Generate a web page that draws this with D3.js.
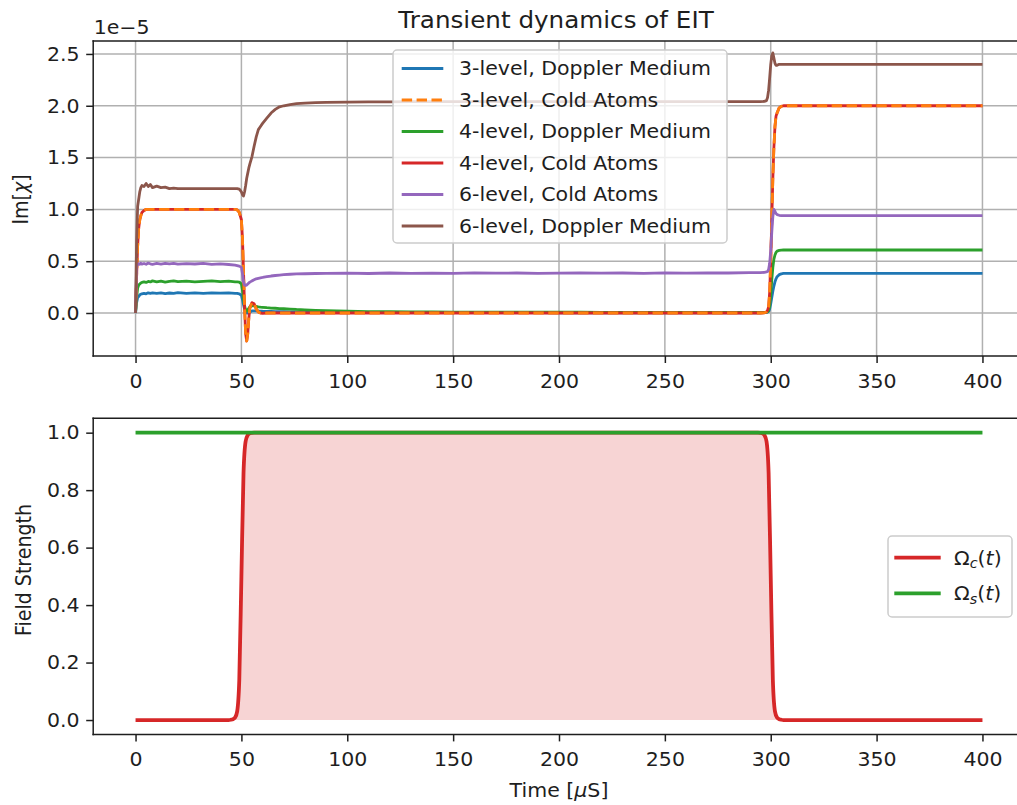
<!DOCTYPE html>
<html>
<head>
<meta charset="utf-8">
<title>Transient dynamics of EIT</title>
<script src="https://cdn.jsdelivr.net/npm/d3@7/dist/d3.min.js"></script>
<style>
  html, body { margin: 0; padding: 0; background: #ffffff; }
  svg { display: block; }
</style>
</head>
<body>
<svg id="fig" width="1017" height="805"></svg>
<script>
// ---------------- data ----------------
// Sample times in microseconds shared by all susceptibility traces
const timeUs = [
  0, 0.5, 1, 1.5, 2, 2.5, 3, 4, 5, 6, 7, 8,
  10, 12, 14, 16, 18, 20, 24, 28, 32, 36, 40, 44, 47, 48, 49,
  50, 50.5, 51, 51.5, 52, 52.5, 53, 53.5, 54, 55, 56, 57, 58, 59, 60,
  62, 64, 66, 68, 70, 73, 76, 80, 85, 90,
  100, 110, 120, 130, 140, 150, 160, 170, 180, 190, 200, 210, 220, 230, 240, 250, 260, 270, 280, 290,
  295, 297, 298, 298.5, 299, 299.5, 300, 300.5, 301, 301.5, 302, 302.5, 303, 304, 305, 306, 308, 310,
  320, 340, 360, 380, 400
];

// Im[chi] in units of 1e-5
const chi3Doppler = [
  0, 0.10, 0.15, 0.16, 0.175, 0.18, 0.185, 0.19, 0.185, 0.195, 0.19, 0.195,
  0.19, 0.195, 0.188, 0.193, 0.19, 0.196, 0.19, 0.194, 0.189, 0.195, 0.191, 0.194, 0.19, 0.19, 0.185,
  0.17, 0.13, 0.08, 0.04, 0.01, 0.0, 0.0, 0.005, 0.01, 0.02, 0.02, 0.02, 0.018, 0.018, 0.017,
  0.016, 0.015, 0.014, 0.013, 0.012, 0.011, 0.01, 0.009, 0.008, 0.007,
  0.006, 0.005, 0.005, 0.004, 0.004, 0.004, 0.003, 0.003, 0.003, 0.003, 0.002, 0.002, 0.002, 0.002, 0.002, 0.002, 0.002, 0.002, 0.002, 0.002,
  0.002, 0.003, 0.005, 0.008, 0.015, 0.04, 0.09, 0.15, 0.21, 0.26, 0.30, 0.33, 0.35, 0.37, 0.378, 0.382, 0.383, 0.383,
  0.383, 0.382, 0.383, 0.382, 0.383
];
const chi3Cold = [
  0, 0.35, 0.65, 0.82, 0.90, 0.94, 0.97, 0.99, 1.0, 1.0, 1.0, 1.0,
  1.0, 1.0, 1.0, 1.0, 1.0, 1.0, 1.0, 1.0, 1.0, 1.0, 1.0, 1.0, 1.0, 0.995, 0.97,
  0.90, 0.72, 0.40, 0.05, -0.20, -0.27, -0.20, -0.05, 0.05, 0.10, 0.09, 0.04, 0.01, 0.0, -0.003,
  0, 0, 0, 0, 0, 0, 0, 0, 0, 0,
  0, 0, 0, 0, 0, 0, 0, 0, 0, 0, 0, 0, 0, 0, 0, 0, 0, 0, 0, 0,
  0, 0.002, 0.01, 0.025, 0.06, 0.20, 0.50, 0.90, 1.30, 1.60, 1.80, 1.90, 1.93, 1.98, 1.995, 2.0, 2.0, 2.0,
  2.0, 2.0, 2.0, 2.0, 2.0
];
const chi4Doppler = [
  0, 0.15, 0.24, 0.27, 0.28, 0.29, 0.295, 0.30, 0.295, 0.305, 0.30, 0.31,
  0.30, 0.308, 0.298, 0.305, 0.31, 0.302, 0.308, 0.30, 0.306, 0.31, 0.303, 0.307, 0.30, 0.30, 0.298,
  0.28, 0.22, 0.14, 0.07, 0.03, 0.02, 0.03, 0.045, 0.06, 0.07, 0.068, 0.064, 0.06, 0.057, 0.055,
  0.051, 0.048, 0.046, 0.043, 0.041, 0.038, 0.034, 0.031, 0.026, 0.022,
  0.017, 0.014, 0.012, 0.011, 0.010, 0.009, 0.009, 0.008, 0.008, 0.007, 0.007, 0.007, 0.006, 0.006, 0.006, 0.006, 0.005, 0.005, 0.005, 0.005,
  0.005, 0.006, 0.008, 0.012, 0.025, 0.07, 0.18, 0.32, 0.44, 0.52, 0.56, 0.585, 0.597, 0.604, 0.607, 0.608, 0.608, 0.608,
  0.608, 0.608, 0.608, 0.608, 0.608
];
const chi4Cold = [
  0, 0.35, 0.65, 0.82, 0.90, 0.94, 0.97, 0.99, 1.0, 1.0, 1.0, 1.0,
  1.0, 1.0, 1.0, 1.0, 1.0, 1.0, 1.0, 1.0, 1.0, 1.0, 1.0, 1.0, 1.0, 0.995, 0.97,
  0.90, 0.72, 0.40, 0.05, -0.20, -0.27, -0.20, -0.05, 0.05, 0.10, 0.09, 0.04, 0.01, 0.0, -0.003,
  0, 0, 0, 0, 0, 0, 0, 0, 0, 0,
  0, 0, 0, 0, 0, 0, 0, 0, 0, 0, 0, 0, 0, 0, 0, 0, 0, 0, 0, 0,
  0, 0.002, 0.01, 0.025, 0.06, 0.20, 0.50, 0.90, 1.30, 1.60, 1.80, 1.90, 1.93, 1.98, 1.995, 2.0, 2.0, 2.0,
  2.0, 2.0, 2.0, 2.0, 2.0
];
const chi6Cold = [
  0, 0.45, 0.47, 0.475, 0.47, 0.48, 0.472, 0.478, 0.47, 0.482, 0.475, 0.47,
  0.478, 0.472, 0.48, 0.474, 0.479, 0.471, 0.477, 0.473, 0.478, 0.47, 0.474, 0.468, 0.462, 0.458, 0.452,
  0.44, 0.38, 0.30, 0.27, 0.265, 0.27, 0.28, 0.29, 0.298, 0.31, 0.32, 0.33, 0.335, 0.34, 0.343,
  0.35, 0.357, 0.362, 0.366, 0.37, 0.374, 0.377, 0.379, 0.381, 0.382,
  0.384, 0.381, 0.386, 0.383, 0.385, 0.382, 0.387, 0.384, 0.386, 0.383, 0.385, 0.388, 0.384, 0.386, 0.383, 0.387, 0.385, 0.388, 0.386, 0.389,
  0.39, 0.392, 0.396, 0.40, 0.42, 0.48, 0.60, 0.78, 0.93, 1.0, 0.98, 0.96, 0.95, 0.943, 0.94, 0.94, 0.94, 0.94,
  0.94, 0.94, 0.94, 0.94, 0.94
];
const chi6Doppler = [
  0, 0.70, 1.03, 1.10, 1.17, 1.21, 1.23, 1.22, 1.25, 1.22, 1.24, 1.21,
  1.225, 1.21, 1.215, 1.20, 1.205, 1.20, 1.20, 1.20, 1.20, 1.20, 1.20, 1.20, 1.20, 1.20, 1.195,
  1.17, 1.14, 1.13, 1.17, 1.23, 1.30, 1.35, 1.40, 1.44, 1.51, 1.61, 1.70, 1.77, 1.80, 1.83,
  1.88, 1.93, 1.965, 1.99, 2.0, 2.012, 2.02, 2.025, 2.03, 2.032,
  2.035, 2.037, 2.038, 2.04, 2.04, 2.04, 2.04, 2.04, 2.04, 2.04, 2.04, 2.04, 2.04, 2.04, 2.04, 2.04, 2.04, 2.04, 2.04, 2.04,
  2.04, 2.042, 2.05, 2.08, 2.15, 2.27, 2.40, 2.48, 2.51, 2.46, 2.41, 2.39, 2.39, 2.40, 2.40, 2.40, 2.40, 2.40,
  2.40, 2.40, 2.40, 2.40, 2.40
];
const chiLabels = [
  "3-level, Doppler Medium",
  "3-level, Cold Atoms",
  "4-level, Doppler Medium",
  "4-level, Cold Atoms",
  "6-level, Cold Atoms",
  "6-level, Doppler Medium"
];

// Control and signal field envelopes
const fieldTime = [0, 44, 45, 46, 47, 48, 49, 50, 51, 52, 53, 54, 55, 56,
                   294, 295, 296, 297, 298, 299, 300, 301, 302, 303, 304, 305, 306, 400];
const omegaC = [0, 0, 0.001, 0.003, 0.008, 0.03, 0.14, 0.5, 0.86, 0.97, 0.992, 0.998, 0.9995, 1,
                1, 0.9995, 0.998, 0.992, 0.97, 0.86, 0.5, 0.14, 0.03, 0.008, 0.003, 0.001, 0, 0];
const omegaSTime = [0, 400];
const omegaS = [1, 1];

const timeTicks = [0, 50, 100, 150, 200, 250, 300, 350, 400];
const chiTicks = [0, 0.5, 1.0, 1.5, 2.0, 2.5];
const fieldTicks = [0, 0.2, 0.4, 0.6, 0.8, 1.0];

// ---------------- style ----------------
const FONT = "'DejaVu Sans', sans-serif";
const FS = 19;          // base text size
const FS_TITLE = 22.8;  // title size
const SX = 1.08;        // horizontal glyph stretch of the figure
const INK = "#1e1e1e";
const C = { blue: "#1f77b4", orange: "#ff7f0e", green: "#2ca02c",
            red: "#d62728", purple: "#9467bd", brown: "#8c564b" };
const LW = 2.8, LW_FIELD = 3.8, SPINE_W = 1.5, TICK_LEN = 7;

const svg = d3.select("#fig");

// ---------------- scales ----------------
const x = d3.scaleLinear().domain([-20, 420]).range([93.2, 1024.8]);
const yChi = d3.scaleLinear().domain([-0.415, 2.625]).range([356, 41]);
const yField = d3.scaleLinear().domain([-0.05, 1.05]).range([734.4, 418.3]);

const topBox = { x0: x.range()[0], x1: x.range()[1], y0: yChi.range()[1], y1: yChi.range()[0] };
const botBox = { x0: x.range()[0], x1: x.range()[1], y0: yField.range()[1], y1: yField.range()[0] };

// ---------------- helpers ----------------
function stretchedText(parent, px, py, rotate) {
  const tf = rotate ? `translate(${px},${py}) rotate(${rotate}) scale(1,${SX})`
                    : `translate(${px},${py}) scale(${SX},1)`;
  return parent.append("text")
    .attr("transform", tf)
    .attr("font-family", FONT)
    .attr("font-size", FS)
    .attr("fill", INK);
}
function addParts(textSel, parts) {
  let shift = 0;
  parts.forEach(p => {
    const ts = textSel.append("tspan").text(p.t);
    if (p.it) ts.attr("font-style", "italic");
    const want = p.sub ? FS * 0.2 : 0;
    if (want !== shift) { ts.attr("dy", want - shift); shift = want; }
    if (p.sub) ts.attr("font-size", FS * 0.7);
  });
}
function clip(id, b) {
  svg.append("clipPath").attr("id", id).append("rect")
    .attr("x", b.x0).attr("y", b.y0).attr("width", b.x1 - b.x0).attr("height", b.y1 - b.y0);
}
function spines(b) {
  const g = svg.append("g").attr("stroke", INK).attr("stroke-width", SPINE_W)
    .attr("stroke-linecap", "square");
  g.append("line").attr("x1", b.x0).attr("x2", b.x0).attr("y1", b.y0).attr("y2", b.y1);
  g.append("line").attr("x1", b.x1).attr("x2", b.x1).attr("y1", b.y0).attr("y2", b.y1);
  g.append("line").attr("x1", b.x0).attr("x2", b.x1).attr("y1", b.y0).attr("y2", b.y0);
  g.append("line").attr("x1", b.x0).attr("x2", b.x1).attr("y1", b.y1).attr("y2", b.y1);
}
function styleAxis(g, isLeft) {
  g.select(".domain").remove();
  g.attr("font-family", FONT).attr("font-size", FS);
  g.selectAll(".tick line").attr("stroke", INK).attr("stroke-width", SPINE_W);
  g.selectAll(".tick text").attr("fill", INK);
  if (isLeft) {
    g.selectAll(".tick text").attr("x", -13.6 / SX).attr("dy", "0.33em")
      .attr("transform", `scale(${SX},1)`);
  } else {
    g.selectAll(".tick text").attr("y", 18.2).attr("dy", "0.71em")
      .attr("transform", `scale(${SX},1)`);
  }
}
function xAxis(yPos) {
  const g = svg.append("g").attr("transform", `translate(0,${yPos})`)
    .call(d3.axisBottom(x).tickValues(timeTicks).tickSize(TICK_LEN).tickFormat(d3.format("d")));
  styleAxis(g, false);
}
function yAxis(scale, ticks) {
  const g = svg.append("g").attr("transform", `translate(${x.range()[0]},0)`)
    .call(d3.axisLeft(scale).tickValues(ticks).tickSize(TICK_LEN).tickFormat(d3.format(".1f")));
  styleAxis(g, true);
}

// ---------------- top panel: Im[chi] ----------------
clip("clipTop", topBox);
clip("clipBot", botBox);

const grid = svg.append("g").attr("stroke", "#b0b0b0").attr("stroke-width", 1.5);
timeTicks.forEach(t => grid.append("line")
  .attr("x1", x(t)).attr("x2", x(t)).attr("y1", topBox.y0).attr("y2", topBox.y1));
chiTicks.forEach(v => grid.append("line")
  .attr("x1", topBox.x0).attr("x2", topBox.x1).attr("y1", yChi(v)).attr("y2", yChi(v)));

const chiLine = d3.line().x((d, i) => x(timeUs[i])).y(d => yChi(d));
const chiSeries = [
  { label: chiLabels[0], values: chi3Doppler, color: C.blue },
  { label: chiLabels[1], values: chi3Cold, color: C.orange, dash: "10.4 4.5" },
  { label: chiLabels[2], values: chi4Doppler, color: C.green },
  { label: chiLabels[3], values: chi4Cold, color: C.red },
  { label: chiLabels[4], values: chi6Cold, color: C.purple },
  { label: chiLabels[5], values: chi6Doppler, color: C.brown }
];
// paint order keeps the dashed cold-atom trace above the solid one
const paintOrder = [0, 2, 3, 1, 4, 5];
const linesTop = svg.append("g").attr("clip-path", "url(#clipTop)");
paintOrder.forEach(k => {
  const s = chiSeries[k];
  linesTop.append("path")
    .attr("d", chiLine(s.values))
    .attr("fill", "none")
    .attr("stroke", s.color)
    .attr("stroke-width", LW)
    .attr("stroke-linejoin", "round")
    .attr("stroke-dasharray", s.dash || null);
});

spines(topBox);
xAxis(topBox.y1);
yAxis(yChi, chiTicks);

// scale factor label above the y axis
stretchedText(svg, topBox.x0 + 0.5, 34).text("1e\u22125");

// title
stretchedText(svg, (topBox.x0 + topBox.x1) / 2 - 3, 27.5)
  .attr("font-size", FS_TITLE).attr("text-anchor", "middle")
  .text("Transient dynamics of EIT");

// y label
addParts(stretchedText(svg, 28, (topBox.y0 + topBox.y1) / 2 + 1, -90).attr("text-anchor", "middle"),
  [{ t: "Im[" }, { t: "\u03c7", it: true }, { t: "]" }]);

// legend (upper centre)
{
  const g = svg.append("g");
  g.append("rect").attr("x", 393).attr("y", 50).attr("width", 334).attr("height", 193)
    .attr("rx", 4).attr("fill", "#ffffff").attr("fill-opacity", 0.8)
    .attr("stroke", "#cccccc").attr("stroke-width", 1.5);
  chiSeries.forEach((s, i) => {
    const cy = 68.5 + i * 31.5;
    g.append("line").attr("x1", 401.7).attr("x2", 443.3).attr("y1", cy).attr("y2", cy)
      .attr("stroke", s.color).attr("stroke-width", LW)
      .attr("stroke-dasharray", s.dash || null);
    stretchedText(g, 459, cy + 6.8).text(s.label);
  });
}

// ---------------- bottom panel: field envelopes ----------------
const fieldArea = d3.area().curve(d3.curveMonotoneX)
  .x((d, i) => x(fieldTime[i])).y0(yField(0)).y1(d => yField(d));
const fieldLineC = d3.line().curve(d3.curveMonotoneX)
  .x((d, i) => x(fieldTime[i])).y(d => yField(d));
const fieldLineS = d3.line().x((d, i) => x(omegaSTime[i])).y(d => yField(d));

const botG = svg.append("g").attr("clip-path", "url(#clipBot)");
botG.append("path").attr("d", fieldArea(omegaC)).attr("fill", C.red).attr("fill-opacity", 0.2);
botG.append("path").attr("d", fieldLineC(omegaC)).attr("fill", "none")
  .attr("stroke", C.red).attr("stroke-width", LW_FIELD).attr("stroke-linejoin", "round");
botG.append("path").attr("d", fieldLineS(omegaS)).attr("fill", "none")
  .attr("stroke", C.green).attr("stroke-width", LW_FIELD);

spines(botBox);
xAxis(botBox.y1);
yAxis(yField, fieldTicks);

stretchedText(svg, 30.5, 570, -90).attr("text-anchor", "middle")
  .text("Field Strength");

addParts(stretchedText(svg, (botBox.x0 + botBox.x1) / 2, 797).attr("text-anchor", "middle"),
  [{ t: "Time [" }, { t: "\u03bc", it: true }, { t: "S]" }]);

// legend (centre right)
{
  const g = svg.append("g");
  g.append("rect").attr("x", 888).attr("y", 536).attr("width", 124).attr("height", 81)
    .attr("rx", 4).attr("fill", "#ffffff").attr("fill-opacity", 0.8)
    .attr("stroke", "#cccccc").attr("stroke-width", 1.5);
  const entries = [
    { color: C.red, parts: [{ t: "\u03a9" }, { t: "c", sub: true, it: true }, { t: "(" }, { t: "t", it: true }, { t: ")" }] },
    { color: C.green, parts: [{ t: "\u03a9" }, { t: "s", sub: true, it: true }, { t: "(" }, { t: "t", it: true }, { t: ")" }] }
  ];
  entries.forEach((e, i) => {
    const cy = 557.7 + i * 35.6;
    g.append("line").attr("x1", 894.3).attr("x2", 940.7).attr("y1", cy).attr("y2", cy)
      .attr("stroke", e.color).attr("stroke-width", LW_FIELD);
    addParts(stretchedText(g, 954, cy + 6.8), e.parts);
  });
}
</script>
</body>
</html>
